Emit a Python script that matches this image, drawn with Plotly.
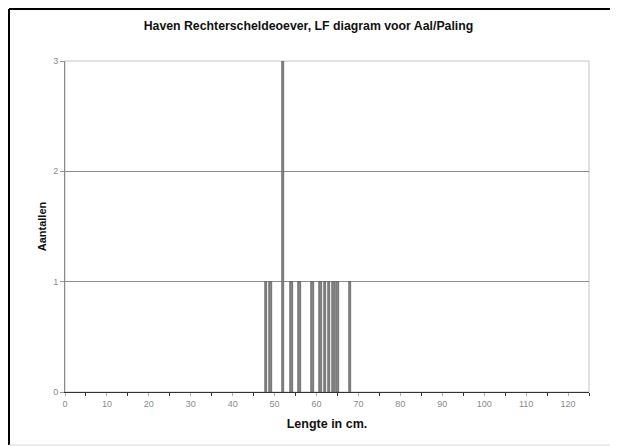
import plotly.graph_objects as go

# lengte (cm) en aantallen gevangen aal/paling
lengte = [48, 49, 52, 54, 56, 59, 61, 62, 63, 64, 65, 68]
aantallen = [1, 1, 3, 1, 1, 1, 1, 1, 1, 1, 1, 1]

titel = "Haven Rechterscheldeoever, LF diagram voor Aal/Paling"
x_titel = "Lengte in cm."
y_titel = "Aantallen"

# de pagina zet de figuur 8px van de rand (body-marge)
W, H = 610, 438
L, R, T, B = 57, 29, 53, 54
pw, ph = W - L - R, H - T - B

fig = go.Figure()
fig.add_trace(go.Bar(
    x=lengte, y=aantallen, width=0.6,
    marker=dict(color="#858585", line=dict(color="#4a4a4a", width=0.6)),
    hoverinfo="x+y",
))

font = "Liberation Sans, Arial, sans-serif"

fig.update_layout(
    width=W, height=H,
    margin=dict(l=L, r=R, t=T, b=B),
    paper_bgcolor="white", plot_bgcolor="white",
    showlegend=False,
    title=dict(text="<b>" + titel + "</b>", x=0.4926, xanchor="center",
               y=1 - 18 / H, yanchor="middle",
               font=dict(family=font, size=12.3, color="#111")),
    xaxis=dict(
        range=[0, 125], dtick=10, tick0=0,
        ticks="outside", ticklen=3, tickcolor="#b0b0b0",
        minor=dict(dtick=5, ticks="outside", ticklen=3, tickcolor="#333"),
        showline=True, linecolor="#333", linewidth=1,
        showgrid=False, zeroline=False,
        tickfont=dict(family=font, size=9, color="#8a8a8a"),
        title=dict(text="<b>" + x_titel + "</b>", standoff=11,
                   font=dict(family=font, size=12.5, color="#111")),
        automargin=False,
    ),
    yaxis=dict(
        range=[0, 3], dtick=1,
        ticks="outside", ticklen=4, tickcolor="#999",
        showline=True, linecolor="#8a8a8a", linewidth=1,
        showgrid=True, gridcolor="#8c8c8c", gridwidth=1,
        zeroline=False,
        tickfont=dict(family=font, size=9, color="#8a8a8a"),
        title=dict(text="<b>" + y_titel + "</b>", standoff=4,
                   font=dict(family=font, size=11, color="#111")),
        automargin=False,
    ),
    bargap=0,
)

# lichtgrijze rand rechts/boven van het plotvlak
fig.add_shape(type="rect", xref="paper", yref="paper", x0=0, y0=0, x1=1, y1=1,
              line=dict(color="#c4c4c4", width=1), layer="below")

# zwart kader om de grafiek (links en boven), lichtgrijs onder
top_y = 1 + (T - 1) / ph
left_x = (1 - L) / pw
bot_y = -(B - 1) / ph
fig.add_shape(type="line", xref="paper", yref="paper",
              x0=left_x, x1=(W - L - 2) / pw, y0=top_y, y1=top_y,
              line=dict(color="black", width=2))
fig.add_shape(type="line", xref="paper", yref="paper",
              x0=left_x, x1=left_x, y0=top_y, y1=bot_y,
              line=dict(color="black", width=2))
fig.add_shape(type="line", xref="paper", yref="paper",
              x0=left_x, x1=(W - L - 2) / pw, y0=bot_y, y1=bot_y,
              line=dict(color="#d8d8d8", width=1))

fig.write_html("out.html")
